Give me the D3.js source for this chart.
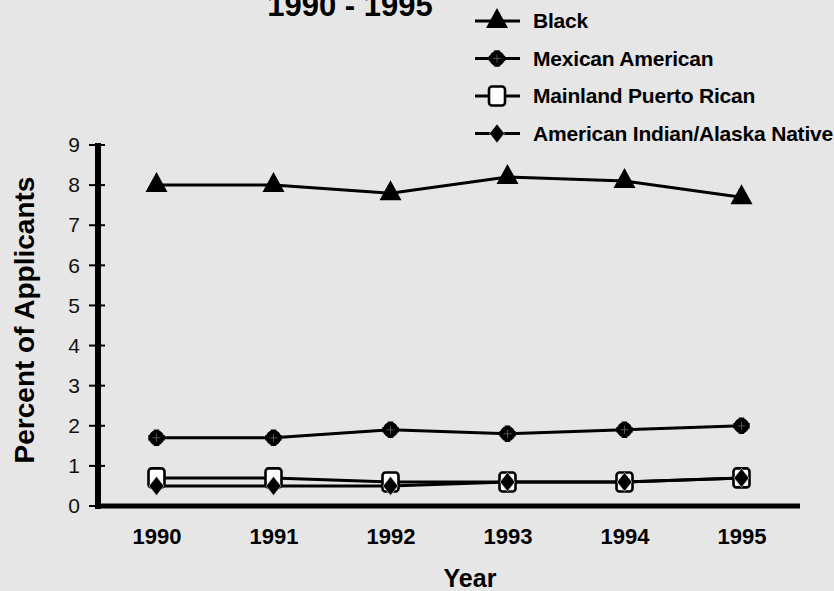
<!DOCTYPE html>
<html>
<head>
<meta charset="utf-8">
<script src="https://cdn.jsdelivr.net/npm/d3@7"></script>
<style>
  html, body { margin: 0; padding: 0; background: #e6e6e6; }
  svg { display: block; font-family: "Liberation Sans", Arial, Helvetica, sans-serif; }
</style>
</head>
<body>
<svg id="chart" width="834" height="591"></svg>
<script>
// Share of applicants by group, 1990-1995
const years = ["1990", "1991", "1992", "1993", "1994", "1995"];
const black = [8.0, 8.0, 7.8, 8.2, 8.1, 7.7];
const mexicanAmerican = [1.7, 1.7, 1.9, 1.8, 1.9, 2.0];
const puertoRican = [0.7, 0.7, 0.6, 0.6, 0.6, 0.7];
const amIndian = [0.5, 0.5, 0.5, 0.6, 0.6, 0.7];
const yTicks = [0, 1, 2, 3, 4, 5, 6, 7, 8, 9];
const seriesNames = ["Black", "Mexican American", "Mainland Puerto Rican", "American Indian/Alaska Native"];

const series = [
  { name: seriesNames[0], values: black, marker: "triangle" },
  { name: seriesNames[1], values: mexicanAmerican, marker: "cog" },
  { name: seriesNames[2], values: puertoRican, marker: "square" },
  { name: seriesNames[3], values: amIndian, marker: "diamond" }
];

const svg = d3.select("#chart");
const axisX = 98, axisY = 506;

const x = d3.scalePoint().domain(years).range([axisX, 800]).padding(0.5);
const y = d3.scaleLinear().domain([0, 9]).range([axisY, 145]);

// marker drawing
function drawMarker(g, type) {
  if (type === "triangle") {
    g.append("path").attr("d", "M0,-13L11,7L-11,7Z").attr("fill", "#000");
  } else if (type === "cog") {
    g.append("circle").attr("r", 7.5).attr("fill", "#000");
    g.append("path").attr("d", d3.symbol(d3.symbolCross, 150)()).attr("fill", "#000");
    g.append("path").attr("d", d3.symbol(d3.symbolCross, 120)()).attr("fill", "#000").attr("transform", "rotate(45)");
    g.append("path").attr("d", "M-4,0H4M0,-4V4").attr("stroke", "#666").attr("stroke-width", 0.8);
  } else if (type === "square") {
    g.append("rect").attr("x", -8).attr("y", -9.5).attr("width", 16).attr("height", 19).attr("rx", 3)
      .attr("fill", "#fff").attr("stroke", "#000").attr("stroke-width", 2.6);
  } else if (type === "diamond") {
    g.append("path").attr("d", "M0,-9.5L7.5,0L0,9.5L-7.5,0Z").attr("fill", "#000")
      .attr("stroke", "#e6e6e6").attr("stroke-width", 0.6);
  }
}

// axes
const yAxisG = svg.append("g").attr("transform", `translate(${axisX},0)`)
  .call(d3.axisLeft(y).tickValues(yTicks).tickSize(0).tickPadding(18).tickFormat(d3.format("d")));
yAxisG.select(".domain").remove();
yAxisG.selectAll("text").attr("font-size", 21).attr("fill", "#111").attr("font-family", "Liberation Sans, Arial, sans-serif");

svg.append("g").selectAll("line").data(yTicks).join("line")
  .attr("x1", axisX - 9).attr("x2", axisX + 7)
  .attr("y1", d => y(d)).attr("y2", d => y(d))
  .attr("stroke", "#000").attr("stroke-width", 2);

const xAxisG = svg.append("g").attr("transform", `translate(0,${axisY})`)
  .call(d3.axisBottom(x).tickSize(0).tickPadding(22));
xAxisG.select(".domain").remove();
xAxisG.selectAll("text").attr("font-size", 22).attr("font-weight", "bold").attr("fill", "#000")
  .attr("font-family", "Liberation Sans, Arial, sans-serif");

svg.append("line").attr("x1", axisX).attr("x2", axisX).attr("y1", 143).attr("y2", axisY + 3)
  .attr("stroke", "#000").attr("stroke-width", 6);
svg.append("line").attr("x1", axisX - 3).attr("x2", 800).attr("y1", axisY).attr("y2", axisY)
  .attr("stroke", "#000").attr("stroke-width", 5);

// axis titles
svg.append("text").attr("x", 470).attr("y", 587).attr("text-anchor", "middle")
  .attr("font-size", 25).attr("font-weight", "bold").text("Year");
svg.append("text").attr("transform", "translate(34,320) rotate(-90)").attr("text-anchor", "middle")
  .attr("font-size", 28).attr("font-weight", "bold").text("Percent of Applicants");

// title (upper lines fall outside the canvas)
svg.append("text").attr("x", 350).attr("y", 16).attr("text-anchor", "middle")
  .attr("font-size", 31).attr("font-weight", "bold").text("1990 - 1995");

// series lines and markers
const line = d3.line().x((d, i) => x(years[i])).y(d => y(d));
series.forEach(s => {
  svg.append("path").datum(s.values).attr("d", line)
    .attr("fill", "none").attr("stroke", "#000").attr("stroke-width", 3);
});
series.forEach(s => {
  s.values.forEach((v, i) => {
    const g = svg.append("g").attr("transform", `translate(${x(years[i])},${y(v)})`);
    drawMarker(g, s.marker);
  });
});

// legend
const legend = svg.append("g");
series.forEach((s, i) => {
  const cy = 21 + i * 37.5;
  legend.append("line").attr("x1", 475).attr("x2", 520).attr("y1", cy).attr("y2", cy)
    .attr("stroke", "#000").attr("stroke-width", 3);
  drawMarker(legend.append("g").attr("transform", `translate(497,${cy})`), s.marker);
  legend.append("text").attr("x", 533).attr("y", cy + 7).attr("font-size", 21)
    .attr("font-weight", "bold").attr("letter-spacing", -0.2).text(s.name);
});
</script>
</body>
</html>
